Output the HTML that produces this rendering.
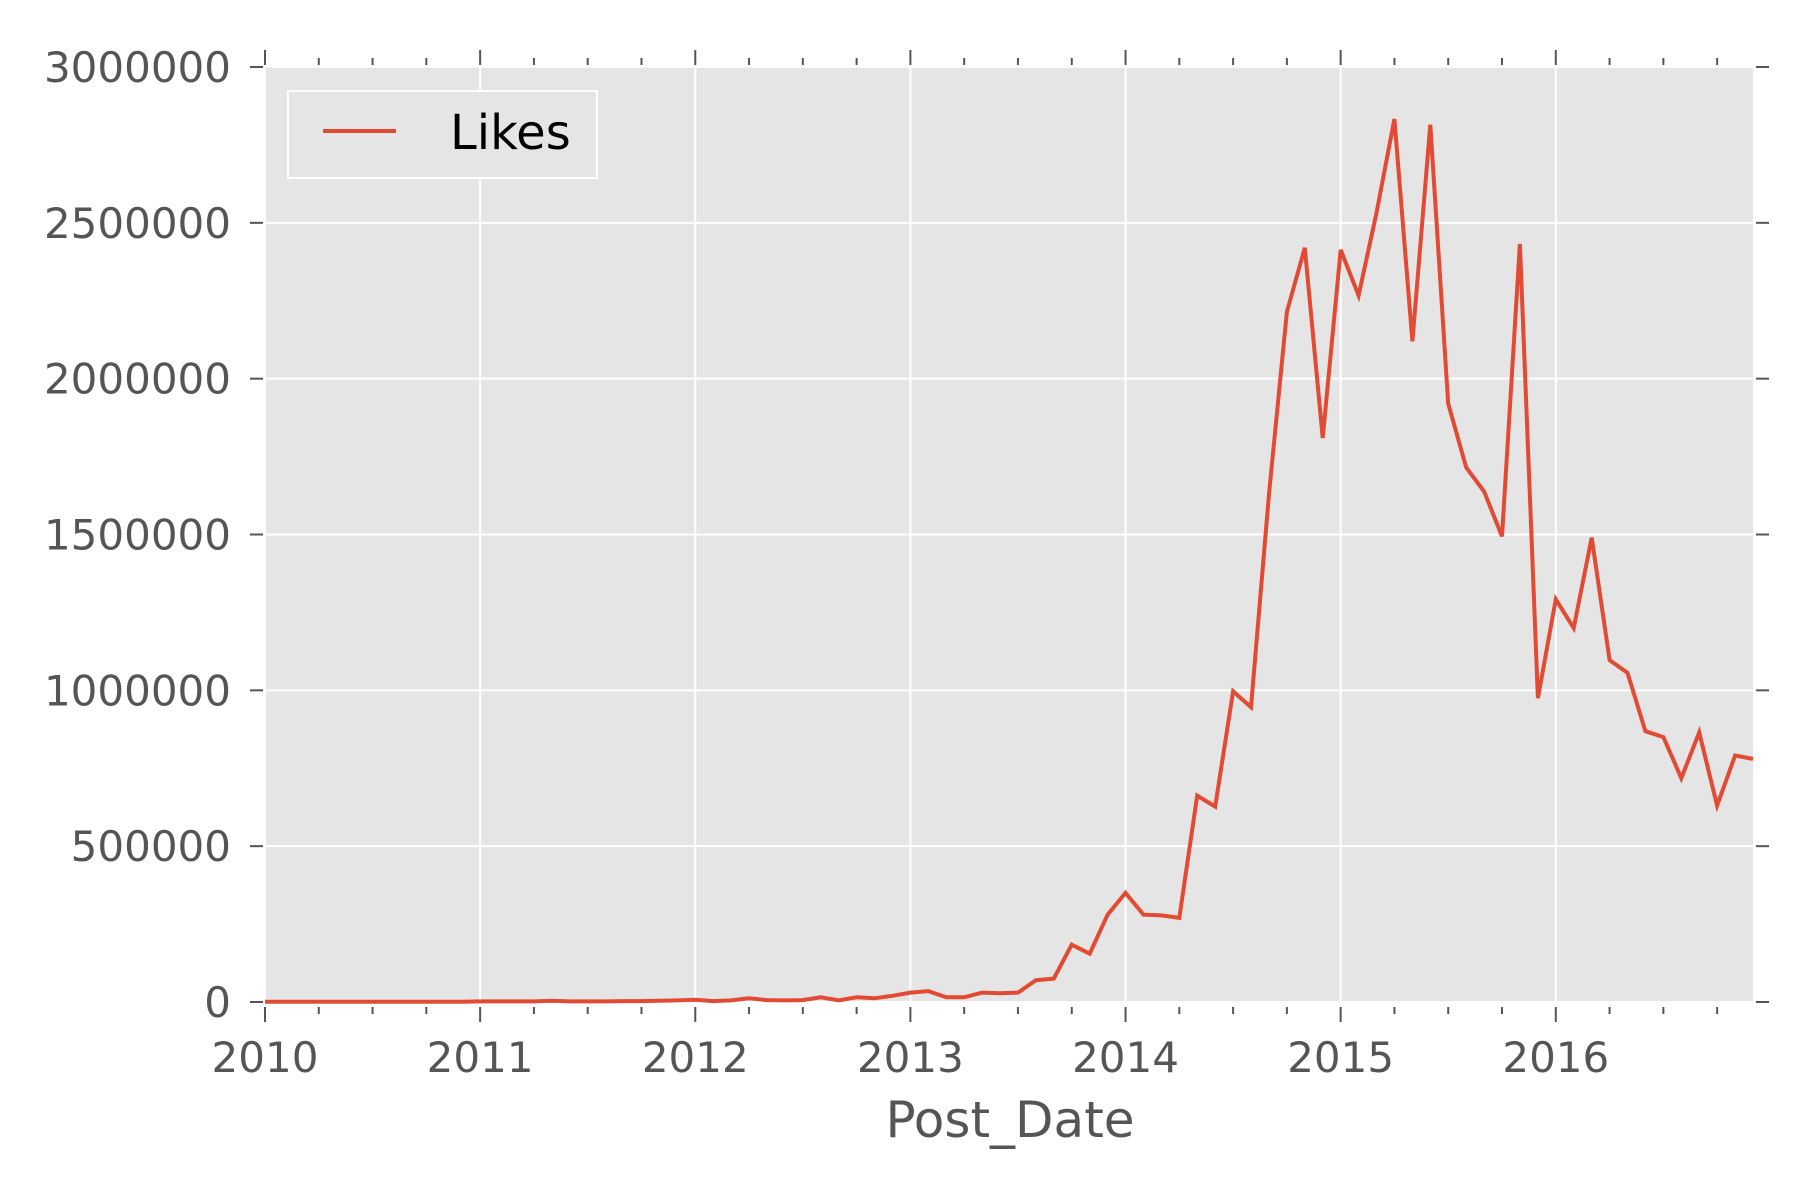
<!DOCTYPE html>
<html><head><meta charset="utf-8"><style>
html,body{margin:0;padding:0;background:#fff;}
svg{display:block;font-family:"DejaVu Sans","Liberation Sans",sans-serif;}
</style></head><body>
<svg id="chart" width="1800" height="1200" viewBox="0 0 1800 1200" xmlns="http://www.w3.org/2000/svg">
<rect x="265" y="67" width="1488" height="935" fill="#E5E5E5"/>
<g id="grid"></g><g id="ticks"></g><g id="series"></g>
<g>
<rect x="288" y="91" width="309" height="87" fill="#E5E5E5" stroke="#fff" stroke-width="2"/>
<line x1="323" y1="131" x2="396" y2="131" stroke="#E24A33" stroke-width="4"/>
<text x="450" y="149" font-size="48" fill="#000">Likes</text>
</g>
<text x="1010" y="1137" font-size="50" fill="#555" text-anchor="middle">Post_Date</text>
</svg>
<script>
const yTicks=[0,500000,1000000,1500000,2000000,2500000,3000000];
const xYears=[2010,2011,2012,2013,2014,2015,2016];
const startYear=2010;
const likes=[
1000,1000,1000,1000,1000,1000,1000,1000,1000,1000,1000,1000,
2000,2000,2000,2000,4000,2000,2000,2000,3000,3000,4000,5000,
7000,3000,5000,12000,6000,5000,6000,15000,5000,15000,12000,20000,
30000,35000,15000,15000,30000,28000,30000,70000,75000,184000,155000,280000,
350000,280000,278000,270000,662000,627000,997000,946000,1630000,2215000,2420000,1810000,
2413000,2267000,2532000,2833000,2120000,2815000,1920000,1715000,1638000,1494000,2432000,975000,
1292000,1200000,1490000,1097000,1056000,869000,850000,718000,865000,630000,791000,780000];
const L=265,R=1753,T=67,B=1002,NS="http://www.w3.org/2000/svg";
const monthPx=(R-L)/83;
function xs(m){return L+m*monthPx;}
function ys(v){return B-(v/3000000)*(B-T);}
function mk(tag,attrs,parent){const e=document.createElementNS(NS,tag);for(const k in attrs)e.setAttribute(k,attrs[k]);parent.appendChild(e);return e;}
const grid=document.getElementById('grid'),ticks=document.getElementById('ticks'),series=document.getElementById('series');
yTicks.forEach(v=>{
 const y=ys(v);
 const g=mk('line',{x1:L,x2:R,y1:y,y2:y,stroke:'#fff','stroke-width':2},grid);
 
 
 const t1=mk('line',{x1:L-15,x2:L-2,y1:y,y2:y,stroke:'#555','stroke-width':2},ticks);
 
 
 const t2=mk('line',{x1:R+3,x2:R+16,y1:y,y2:y,stroke:'#555','stroke-width':2},ticks);
 
 
 const lb=mk('text',{x:L-34,y:y+15,'font-size':42,fill:'#555','text-anchor':'end'},ticks);
 lb.textContent=String(v);
 
 
});
for(let m=0;m<84;m+=3){
 const x=xs(m),major=m%12===0;
 if(major){
  const g=mk('line',{x1:x,x2:x,y1:T,y2:B,stroke:'#fff','stroke-width':2},grid);
  
  
 }
 const tb=mk('line',{x1:x,x2:x,y1:B+5,y2:B+(major?20:12),stroke:'#555','stroke-width':2},ticks);
 
 
 const tt=mk('line',{x1:x,x2:x,y1:T-(major?17:9),y2:T-2,stroke:'#555','stroke-width':2},ticks);
 
 
}
xYears.forEach(yr=>{
 const lb=mk('text',{x:xs((yr-startYear)*12),y:1072,'font-size':42,fill:'#555','text-anchor':'middle'},ticks);
 lb.textContent=String(yr);
 
 
});
const pts=likes.map((v,i)=>xs(i).toFixed(1)+','+ys(v).toFixed(1)).join(' ');
const pl=mk('polyline',{points:pts,fill:'none',stroke:'#E24A33','stroke-width':4,'stroke-linejoin':'miter'},series);


</script>
</body></html>
